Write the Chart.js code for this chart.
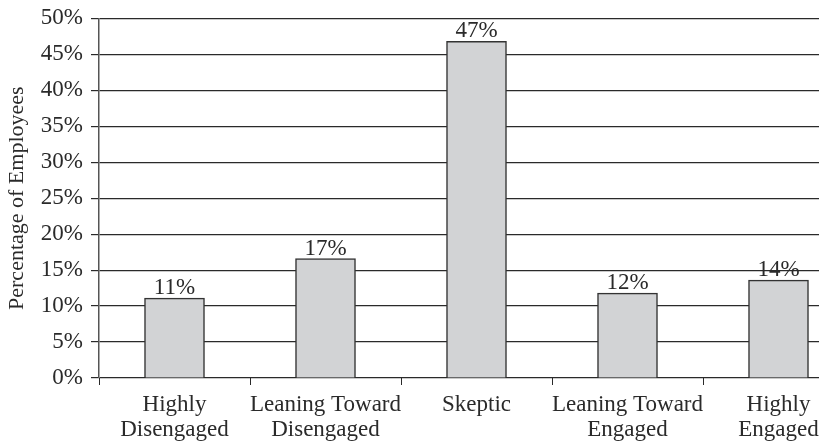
<!DOCTYPE html>
<html>
<head>
<meta charset="utf-8">
<script src="https://cdn.jsdelivr.net/npm/chart.js@4.4.1/dist/chart.umd.min.js"></script>
<style>
  html, body { margin: 0; padding: 0; overflow: hidden; background: #fff; }
  #wrap { width: 860px; height: 447px; }
</style>
</head>
<body>
<div id="wrap"><canvas id="myChart"></canvas></div>
<script>
const categories = [
  ['Highly', 'Disengaged'],
  ['Leaning Toward', 'Disengaged'],
  'Skeptic',
  ['Leaning Toward', 'Engaged'],
  ['Highly', 'Engaged'],
];
const values = [11.1, 16.6, 46.8, 11.8, 13.6];
const barLabels = ['11%', '17%', '47%', '12%', '14%'];

const fontFamily = '"Liberation Serif", "Times New Roman", serif';
const ink = '#2a2a2a';

// labels above each bar
const barValueLabels = {
  id: 'barValueLabels',
  afterDatasetsDraw(chart) {
    const ctx = chart.ctx;
    const meta = chart.getDatasetMeta(0);
    ctx.save();
    ctx.font = '23px ' + fontFamily;
    ctx.fillStyle = ink;
    ctx.textAlign = 'center';
    ctx.textBaseline = 'alphabetic';
    meta.data.forEach((bar, i) => {
      ctx.fillText(barLabels[i], bar.x, bar.y - 4);
    });
    ctx.restore();
  }
};

const printChart = () => {
  const ctx = document.getElementById('myChart').getContext('2d');

  new Chart(ctx, {
    type: 'bar',
    data: {
      labels: categories,
      datasets: [{
        data: values,
        backgroundColor: '#d2d3d5',
        borderColor: '#333',
        borderWidth: 1.5,
        barThickness: 60,
      }],
    },
    options: {
      responsive: true,
      maintainAspectRatio: false,
      animation: false,
      layout: { padding: { top: 17, right: 6, left: 0, bottom: 0 } },
      plugins: {
        legend: { display: false },
        tooltip: { enabled: false },
      },
      scales: {
        x: {
          grid: {
            offset: true,
            drawOnChartArea: false,
            color: ink,
            tickLength: 7,
          },
          border: { display: false },
          ticks: {
            color: ink,
            font: { family: fontFamily, size: 23, lineHeight: 1.08 },
            maxRotation: 0,
            autoSkip: false,
            padding: 8,
          },
          afterFit(scale) { scale.height = 69; },
        },
        y: {
          min: 0,
          max: 50,
          ticks: {
            stepSize: 5,
            color: ink,
            padding: 8,
            font: { family: fontFamily, size: 23, lineHeight: 0.9 },
            callback: v => v + '%',
          },
          grid: {
            color: ink,
            lineWidth: 1.2,
            tickLength: 8,
          },
          border: { display: true, color: '#555', width: 1.5 },
          title: {
            display: true,
            text: 'Percentage of Employees',
            color: ink,
            font: { family: fontFamily, size: 22 },
            padding: { top: 4, bottom: 0 },
          },
          afterFit(scale) { scale.width = 99; },
        },
      },
    },
    plugins: [barValueLabels],
  });
};

window.onload = printChart;
</script>
</body>
</html>
